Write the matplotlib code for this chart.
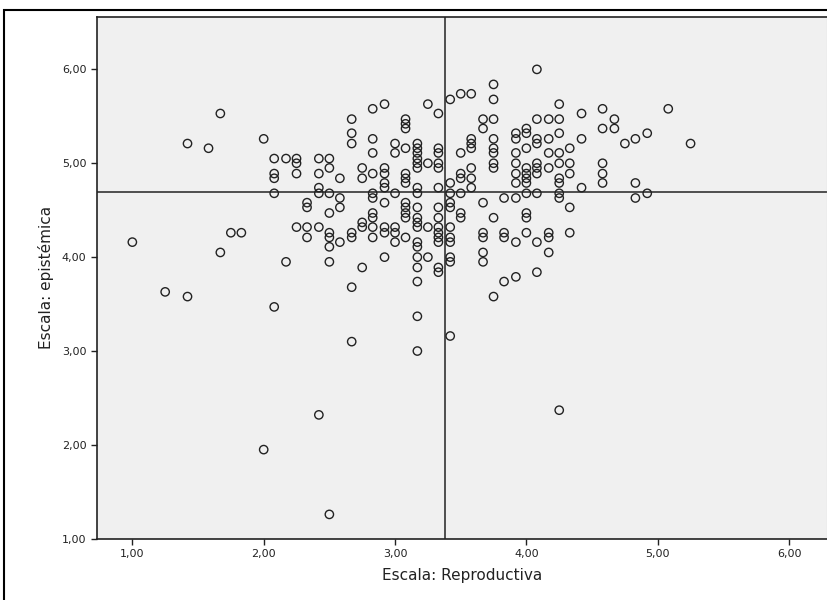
import matplotlib.pyplot as plt
from matplotlib.ticker import FuncFormatter
from matplotlib.patches import Rectangle

# Escala reproductiva (x) y los valores de la escala epistémica en cada nivel
reproductiva = [1.00, 1.25, 1.42, 1.58, 1.67, 1.75, 1.83, 2.00, 2.08, 2.17,
                2.25, 2.33, 2.42, 2.50, 2.58, 2.67, 2.75, 2.83, 2.92, 3.00,
                3.08, 3.17, 3.25, 3.33, 3.42, 3.50, 3.58, 3.67, 3.75, 3.83,
                3.92, 4.00, 4.08, 4.17, 4.25, 4.33, 4.42, 4.58, 4.67, 4.75,
                4.83, 4.92, 5.08, 5.25]

epistemica = [
    [4.16],
    [3.63],
    [5.21, 3.58],
    [5.16],
    [5.53, 4.05],
    [4.26],
    [4.26],
    [5.26, 1.95],
    [5.05, 4.89, 4.84, 4.68, 3.47],
    [5.05, 3.95],
    [5.05, 5.00, 4.89, 4.32],
    [4.58, 4.53, 4.32, 4.21],
    [5.05, 4.89, 4.74, 4.68, 4.32, 2.32],
    [5.05, 4.95, 4.68, 4.47, 4.26, 4.21, 4.11, 3.95, 1.26],
    [4.84, 4.63, 4.53, 4.16],
    [5.47, 5.32, 5.21, 4.26, 4.21, 3.68, 3.10],
    [4.95, 4.84, 4.37, 4.32, 3.89],
    [5.58, 5.26, 5.11, 4.89, 4.68, 4.63, 4.47, 4.42, 4.32, 4.21],
    [5.63, 4.95, 4.89, 4.79, 4.74, 4.58, 4.32, 4.26, 4.00],
    [5.21, 5.11, 4.68, 4.32, 4.26, 4.16],
    [5.47, 5.42, 5.37, 5.16, 4.89, 4.84, 4.79, 4.58, 4.53, 4.47, 4.42, 4.21],
    [5.21, 5.16, 5.11, 5.05, 5.00, 4.95, 4.74, 4.68, 4.53, 4.42, 4.37, 4.32,
     4.16, 4.11, 4.00, 3.89, 3.74, 3.37, 3.00],
    [5.63, 5.00, 4.32, 4.00],
    [5.53, 5.16, 5.11, 5.00, 4.95, 4.74, 4.53, 4.42, 4.32, 4.26, 4.21, 4.16,
     3.89, 3.84],
    [5.68, 4.79, 4.68, 4.58, 4.53, 4.32, 4.21, 4.16, 4.00, 3.95, 3.16],
    [5.74, 5.11, 4.89, 4.84, 4.68, 4.47, 4.42],
    [5.74, 5.26, 5.21, 5.16, 4.95, 4.84, 4.74],
    [5.47, 5.37, 4.58, 4.26, 4.21, 4.05, 3.95],
    [5.84, 5.68, 5.47, 5.26, 5.16, 5.11, 5.00, 4.95, 4.42, 3.58],
    [4.63, 4.26, 4.21, 3.74],
    [5.32, 5.26, 5.11, 5.00, 4.89, 4.79, 4.63, 4.16, 3.79],
    [5.37, 5.32, 5.16, 4.95, 4.89, 4.84, 4.79, 4.68, 4.47, 4.42, 4.26],
    [6.00, 5.47, 5.26, 5.21, 5.00, 4.95, 4.89, 4.68, 4.16, 3.84],
    [5.47, 5.26, 5.11, 4.95, 4.26, 4.21, 4.05],
    [5.63, 5.47, 5.32, 5.11, 5.00, 4.84, 4.79, 4.68, 4.63, 2.37],
    [5.16, 5.00, 4.89, 4.53, 4.26],
    [5.53, 5.26, 4.74],
    [5.58, 5.37, 5.00, 4.89, 4.79],
    [5.47, 5.37],
    [5.21],
    [5.26, 4.79, 4.63],
    [5.32, 4.68],
    [5.58],
    [5.21],
]

# medias usadas como líneas de referencia
media_x = 3.38
media_y = 4.69

xs = []
ys = []
for xv, col in zip(reproductiva, epistemica):
    for yv in col:
        xs.append(xv)
        ys.append(yv)

fig = plt.figure(figsize=(8.28, 6), dpi=100)
ax = fig.add_axes([0.117, 0.102, 0.882, 0.870])
ax.set_facecolor('#f0f0f0')

ax.scatter(xs, ys, s=36, facecolors='none', edgecolors='#222222',
           linewidths=1.0, zorder=3)
ax.axvline(media_x, color='#333333', lw=1.2, zorder=2)
ax.axhline(media_y, color='#333333', lw=1.2, zorder=2)

ax.set_xlim(0.73, 6.29)
ax.set_ylim(1.0, 6.56)
ax.set_xticks([1, 2, 3, 4, 5, 6])
ax.set_yticks([1, 2, 3, 4, 5, 6])
fmt = FuncFormatter(lambda v, p: f"{v:.2f}".replace('.', ','))
ax.xaxis.set_major_formatter(fmt)
ax.yaxis.set_major_formatter(fmt)
ax.tick_params(direction='out', length=4, width=1, labelsize=8,
               colors='#222222', top=False, right=False)

for side in ['left', 'bottom', 'top']:
    ax.spines[side].set_color('#222222')
    ax.spines[side].set_linewidth(1.2)
ax.spines['right'].set_color('#bbbbbb')

ax.set_xlabel('Escala: Reproductiva', fontsize=11, color='#222222', labelpad=6)
ax.set_ylabel('Escala: epistémica', fontsize=11, color='#222222', labelpad=6)

# marco exterior
fig.add_artist(Rectangle((0.005, -0.05), 1.1, 1.033, transform=fig.transFigure,
                         fill=False, edgecolor='black', lw=1.5, clip_on=False))

fig.savefig('out.png', dpi=100)
